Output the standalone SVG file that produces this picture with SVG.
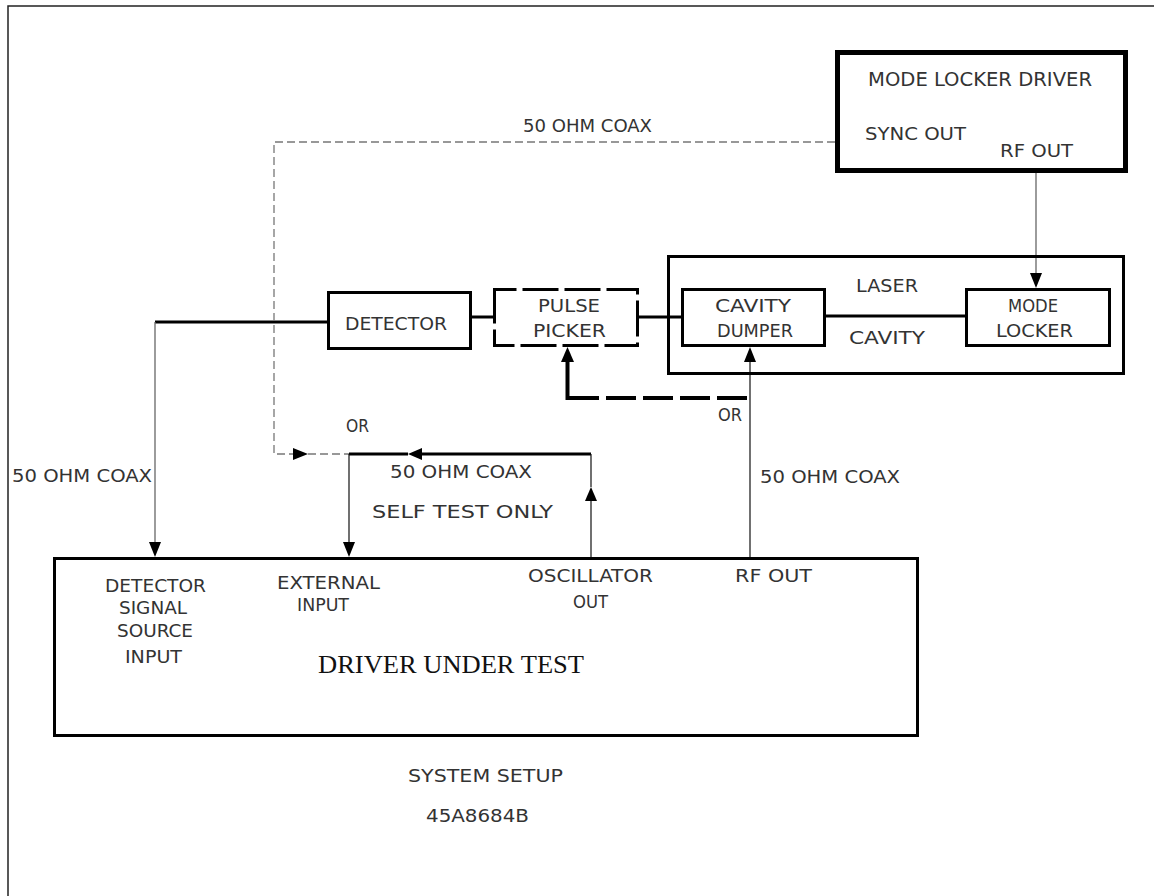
<svg xmlns="http://www.w3.org/2000/svg" width="1154" height="896" viewBox="0 0 1154 896">
<style>
.t{font-family:"Liberation Sans Narrow","DejaVu Sans Condensed","Liberation Sans",sans-serif;font-size:18px;fill:#333}
.big{font-size:20px}
.serif{font-family:"Liberation Serif","Times New Roman",serif;font-size:26px;fill:#111}
.box{fill:none;stroke:#000;stroke-width:3}
.thick{fill:none;stroke:#000;stroke-width:3}
.thin{fill:none;stroke:#111;stroke-width:1.2}
.gray{fill:none;stroke:#666;stroke-width:1.3}
.gdash{fill:none;stroke:#777;stroke-width:1.3;stroke-dasharray:8 4}
.bdash{fill:none;stroke:#000;stroke-width:4;stroke-dasharray:30 7}
.ah{fill:#000}
</style>
<rect width="1154" height="896" fill="#fff"/>
<g id="frame">
<path d="M8,896 V6 H1154" fill="none" stroke="#222" stroke-width="1.5"/>
</g>
<g id="connectors">
<path class="thick" d="M327,322 H155"/>
<path class="gray" d="M155,322 V542"/>
<polygon class="ah" points="149,542 161,542 155,557"/>
<path class="thick" d="M472,317 H493"/>
<path class="thick" d="M639,317 H681"/>
<path class="thick" d="M826,316 H965"/>
<path class="gray" d="M1036,173 V273"/>
<polygon class="ah" points="1030,273 1042,273 1036,288"/>
<path class="gdash" d="M835,142 H274 V454 H293"/>
<polygon class="ah" points="293,448 293,460 308,454"/>
<path class="gdash" d="M308,454 H349"/>
<path class="thick" d="M591,454 H422"/>
<polygon class="ah" points="422,448 422,460 408,454"/>
<path class="thick" d="M408,454 H349"/>
<path class="thin" d="M349,454 V542"/>
<polygon class="ah" points="343,542 355,542 349,557"/>
<path class="thin" d="M591,557 V501"/>
<polygon class="ah" points="585,501 597,501 591,487"/>
<path class="thin" d="M591,487 V454"/>
<path class="thin" d="M750,557 V362"/>
<polygon class="ah" points="744,362 756,362 750,347"/>
<path class="bdash" d="M747,398 H567"/>
<path fill="none" stroke="#000" stroke-width="4" d="M567.5,400 V362"/>
<polygon class="ah" points="561,362 574,362 567.5,347"/>
</g>
<g id="mode-locker-driver">
<rect x="837.5" y="52.5" width="288" height="118" fill="none" stroke="#000" stroke-width="5"/>
<text class="t big" x="868" y="86" textLength="224" lengthAdjust="spacingAndGlyphs">MODE LOCKER DRIVER</text>
<text class="t" x="865" y="140" textLength="101" lengthAdjust="spacingAndGlyphs">SYNC OUT</text>
<text class="t" x="1000" y="157" textLength="73" lengthAdjust="spacingAndGlyphs">RF OUT</text>
</g>
<g id="laser">
<rect class="box" x="668.5" y="256.5" width="455" height="117"/>
<text class="t" x="856" y="292" textLength="62" lengthAdjust="spacingAndGlyphs">LASER</text>
<text class="t" x="849" y="344" textLength="76" lengthAdjust="spacingAndGlyphs">CAVITY</text>
</g>
<g id="cavity-dumper">
<rect class="box" x="682.5" y="289.5" width="142" height="56"/>
<text class="t" x="715" y="312" textLength="76" lengthAdjust="spacingAndGlyphs">CAVITY</text>
<text class="t" x="717" y="337" textLength="76" lengthAdjust="spacingAndGlyphs">DUMPER</text>
</g>
<g id="mode-locker">
<rect class="box" x="966.5" y="289.5" width="143" height="56"/>
<text class="t" x="1008" y="312" textLength="50" lengthAdjust="spacingAndGlyphs">MODE</text>
<text class="t" x="996" y="337" textLength="77" lengthAdjust="spacingAndGlyphs">LOCKER</text>
</g>
<g id="detector">
<rect class="box" x="328.5" y="292.5" width="142" height="56"/>
<text class="t" x="345" y="330" textLength="102" lengthAdjust="spacingAndGlyphs">DETECTOR</text>
</g>
<g id="pulse-picker">
<rect x="494.5" y="289.5" width="143" height="56" fill="none" stroke="#000" stroke-width="3" stroke-dasharray="36 6" stroke-dashoffset="14"/>
<text class="t" x="538" y="312" textLength="62" lengthAdjust="spacingAndGlyphs">PULSE</text>
<text class="t" x="533" y="337" textLength="73" lengthAdjust="spacingAndGlyphs">PICKER</text>
</g>
<g id="labels">
<text class="t" x="523" y="132" textLength="129" lengthAdjust="spacingAndGlyphs">50 OHM COAX</text>
<text class="t" x="346" y="432" textLength="23" lengthAdjust="spacingAndGlyphs">OR</text>
<text class="t" x="718" y="421" textLength="24" lengthAdjust="spacingAndGlyphs">OR</text>
<text class="t" x="12" y="482" textLength="140" lengthAdjust="spacingAndGlyphs">50 OHM COAX</text>
<text class="t" x="390" y="478" textLength="142" lengthAdjust="spacingAndGlyphs">50 OHM COAX</text>
<text class="t" x="372" y="518" textLength="181" lengthAdjust="spacingAndGlyphs">SELF TEST ONLY</text>
<text class="t" x="760" y="483" textLength="140" lengthAdjust="spacingAndGlyphs">50 OHM COAX</text>
<text class="t" x="408" y="782" textLength="155" lengthAdjust="spacingAndGlyphs">SYSTEM SETUP</text>
<text class="t" x="426" y="822" textLength="103" lengthAdjust="spacingAndGlyphs">45A8684B</text>
</g>
<g id="driver-under-test">
<rect class="box" x="54.5" y="558.5" width="863" height="177"/>
<text class="t" x="105" y="592" textLength="101" lengthAdjust="spacingAndGlyphs">DETECTOR</text>
<text class="t" x="119" y="614" textLength="68" lengthAdjust="spacingAndGlyphs">SIGNAL</text>
<text class="t" x="117" y="637" textLength="76" lengthAdjust="spacingAndGlyphs">SOURCE</text>
<text class="t" x="125" y="663" textLength="57" lengthAdjust="spacingAndGlyphs">INPUT</text>
<text class="t" x="277" y="589" textLength="103" lengthAdjust="spacingAndGlyphs">EXTERNAL</text>
<text class="t" x="297" y="611" textLength="52" lengthAdjust="spacingAndGlyphs">INPUT</text>
<text class="t" x="528" y="582" textLength="125" lengthAdjust="spacingAndGlyphs">OSCILLATOR</text>
<text class="t" x="573" y="608" textLength="35" lengthAdjust="spacingAndGlyphs">OUT</text>
<text class="t" x="735" y="582" textLength="77" lengthAdjust="spacingAndGlyphs">RF OUT</text>
<text class="serif" x="318" y="673" textLength="266" lengthAdjust="spacingAndGlyphs">DRIVER UNDER TEST</text>
</g>
</svg>
